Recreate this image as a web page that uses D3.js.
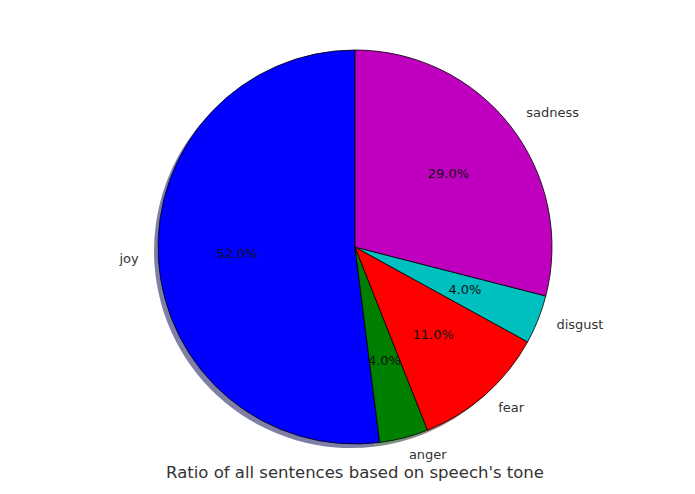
<!DOCTYPE html>
<html>
<head>
<meta charset="utf-8">
<script src="https://cdn.jsdelivr.net/npm/d3@7"></script>
<style>
  body { margin: 0; background: #fff; }
  text { font-family: "DejaVu Sans", sans-serif; }
</style>
</head>
<body>
<div id="chart"></div>
<script>
"use strict";

/* ── Data (matplotlib order, counter-clockwise from 12 o'clock) ── */
const tones   = ["joy", "anger", "fear", "disgust", "sadness"];
const shares  = [52, 4, 11, 4, 29];
const colours = ["#0000ff", "#008000", "#ff0000", "#00bfbf", "#bf00bf"];
const title   = "Ratio of all sentences based on speech's tone";

const W = 695, H = 494;
const cx = 355, cy = 247, r = 197;

const svg = d3.select("#chart").append("svg")
  .attr("width", W).attr("height", H);

/* matplotlib runs counter-clockwise, d3 clockwise: negate the angles */
const pie = d3.pie().sort(null).value(d => d.v)
  .startAngle(0).endAngle(-2 * Math.PI);

const rows = tones.map((t, i) => ({ t, v: shares[i], c: colours[i] }));
const arcs = pie(rows);
const arc  = d3.arc().innerRadius(0).outerRadius(r);

/* ── Shadow ── */
const shadow = svg.append("g")
  .attr("transform", `translate(${cx - 4},${cy + 4})`);
shadow.selectAll("path")
  .data(arcs)
  .join("path")
  .attr("d", arc)
  .attr("fill", d => {
    const c = d3.rgb(d.data.c);
    return d3.rgb(c.r * 0.3, c.g * 0.3, c.b * 0.3);
  })
  .attr("opacity", 0.5);

/* ── Wedges ── */
const g = svg.append("g").attr("transform", `translate(${cx},${cy})`);
g.selectAll("path.wedge")
  .data(arcs)
  .join("path")
  .attr("class", "wedge")
  .attr("d", arc)
  .attr("fill", d => d.data.c)
  .attr("stroke", "#000")
  .attr("stroke-width", 0.8);

const mid = d => (d.startAngle + d.endAngle) / 2;

/* ── Percent labels ── */
g.selectAll("text.pct")
  .data(arcs)
  .join("text")
  .attr("class", "pct")
  .attr("x", d => Math.sin(mid(d)) * r * 0.6)
  .attr("y", d => -Math.cos(mid(d)) * r * 0.6 - 1)
  .attr("text-anchor", "middle")
  .attr("dominant-baseline", "central")
  .attr("font-size", "13px")
  .attr("fill", "#111")
  .text(d => d.data.v.toFixed(1) + "%");

/* ── Category labels ── */
g.selectAll("text.lab")
  .data(arcs)
  .join("text")
  .attr("class", "lab")
  .attr("x", d => Math.sin(mid(d)) * r * 1.1)
  .attr("y", d => -Math.cos(mid(d)) * r * 1.1 - 2)
  .attr("text-anchor", d => Math.sin(mid(d)) > 0 ? "start" : "end")
  .attr("dominant-baseline", "central")
  .attr("font-size", "13px")
  .attr("fill", "#333")
  .text(d => d.data.t);

/* ── Title ── */
svg.append("text")
  .attr("x", cx).attr("y", 478)
  .attr("text-anchor", "middle")
  .attr("font-size", "16.5px")
  .attr("fill", "#333")
  .text(title);
</script>
</body>
</html>
